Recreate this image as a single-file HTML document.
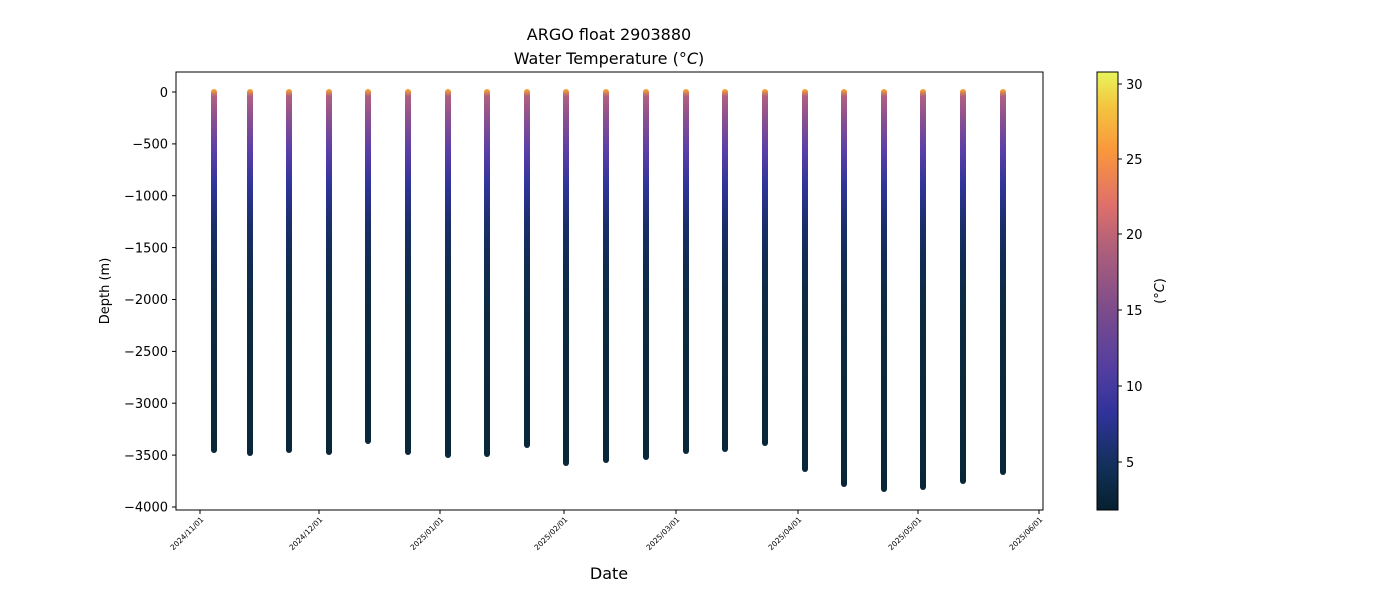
<!DOCTYPE html>
<html><head><style>body{margin:0;background:#fff}svg{display:block}text{font-family:"DejaVu Sans","Liberation Sans",sans-serif;fill:#000}</style></head>
<body>
<svg width="1400" height="600" xmlns="http://www.w3.org/2000/svg">
<defs>
<linearGradient id="cb" x1="0" y1="1" x2="0" y2="0">
<stop offset="0" stop-color="#06202e"/>
<stop offset="0.1" stop-color="#12305a"/>
<stop offset="0.22" stop-color="#30329a"/>
<stop offset="0.32" stop-color="#523ea0"/>
<stop offset="0.45" stop-color="#7a4b8c"/>
<stop offset="0.6" stop-color="#b0607a"/>
<stop offset="0.7" stop-color="#e0706a"/>
<stop offset="0.82" stop-color="#f9973c"/>
<stop offset="0.92" stop-color="#f4c43f"/>
<stop offset="1" stop-color="#e8f55a"/>
</linearGradient>
<linearGradient id="pg" gradientUnits="userSpaceOnUse" x1="0" y1="90" x2="0" y2="500">
<stop offset="0" stop-color="#f5a030"/>
<stop offset="0.015" stop-color="#b06080"/>
<stop offset="0.07" stop-color="#8a5090"/>
<stop offset="0.15" stop-color="#5a3ea8"/>
<stop offset="0.23" stop-color="#30359a"/>
<stop offset="0.33" stop-color="#1a2e6a"/>
<stop offset="0.43" stop-color="#0f2c50"/>
<stop offset="0.55" stop-color="#0b2a40"/>
<stop offset="1" stop-color="#082636"/>
</linearGradient>
</defs>
<text x="609" y="40" font-size="16" text-anchor="middle">ARGO float 2903880</text>
<text x="609" y="64" font-size="16" text-anchor="middle">Water Temperature (<tspan font-style="italic">°C</tspan>)</text>
<g fill="url(#pg)">
<rect x="211" y="89" width="6" height="364" rx="3"/>
<rect x="247" y="89" width="6" height="367" rx="3"/>
<rect x="286" y="89" width="6" height="364" rx="3"/>
<rect x="326" y="89" width="6" height="366" rx="3"/>
<rect x="365" y="89" width="6" height="355" rx="3"/>
<rect x="405" y="89" width="6" height="366" rx="3"/>
<rect x="445" y="89" width="6" height="369" rx="3"/>
<rect x="484" y="89" width="6" height="368" rx="3"/>
<rect x="524" y="89" width="6" height="359" rx="3"/>
<rect x="563" y="89" width="6" height="377" rx="3"/>
<rect x="603" y="89" width="6" height="374" rx="3"/>
<rect x="643" y="89" width="6" height="371" rx="3"/>
<rect x="683" y="89" width="6" height="365" rx="3"/>
<rect x="722" y="89" width="6" height="363" rx="3"/>
<rect x="762" y="89" width="6" height="357" rx="3"/>
<rect x="802" y="89" width="6" height="383" rx="3"/>
<rect x="841" y="89" width="6" height="398" rx="3"/>
<rect x="881" y="89" width="6" height="403" rx="3"/>
<rect x="920" y="89" width="6" height="401" rx="3"/>
<rect x="960" y="89" width="6" height="395" rx="3"/>
<rect x="1000" y="89" width="6" height="386" rx="3"/>
</g>
<rect x="176" y="72" width="867" height="438" fill="none" stroke="#000" stroke-width="1"/>
<g stroke="#000">
<line x1="172" y1="92" x2="176" y2="92"/><line x1="172" y1="143.9" x2="176" y2="143.9"/>
<line x1="172" y1="195.7" x2="176" y2="195.7"/><line x1="172" y1="247.6" x2="176" y2="247.6"/>
<line x1="172" y1="299.5" x2="176" y2="299.5"/><line x1="172" y1="351.4" x2="176" y2="351.4"/>
<line x1="172" y1="403.2" x2="176" y2="403.2"/><line x1="172" y1="455.1" x2="176" y2="455.1"/>
<line x1="172" y1="507" x2="176" y2="507"/>
<line x1="200" y1="510" x2="200" y2="514"/><line x1="319" y1="510" x2="319" y2="514"/>
<line x1="440" y1="510" x2="440" y2="514"/><line x1="564" y1="510" x2="564" y2="514"/>
<line x1="676" y1="510" x2="676" y2="514"/><line x1="798" y1="510" x2="798" y2="514"/>
<line x1="918" y1="510" x2="918" y2="514"/><line x1="1039" y1="510" x2="1039" y2="514"/>
</g>
<g font-size="13" text-anchor="end">
<text x="168" y="97">0</text><text x="168" y="148.6">−500</text><text x="168" y="200.4">−1000</text>
<text x="168" y="252.3">−1500</text><text x="168" y="304.2">−2000</text><text x="168" y="356.1">−2500</text>
<text x="168" y="407.9">−3000</text><text x="168" y="459.8">−3500</text><text x="168" y="511.7">−4000</text>
</g>
<g font-size="7.5" text-anchor="end">
<text transform="translate(204,520) rotate(-45)">2024/11/01</text>
<text transform="translate(323,520) rotate(-45)">2024/12/01</text>
<text transform="translate(444,520) rotate(-45)">2025/01/01</text>
<text transform="translate(568,520) rotate(-45)">2025/02/01</text>
<text transform="translate(680,520) rotate(-45)">2025/03/01</text>
<text transform="translate(802,520) rotate(-45)">2025/04/01</text>
<text transform="translate(922,520) rotate(-45)">2025/05/01</text>
<text transform="translate(1043,520) rotate(-45)">2025/06/01</text>
</g>
<text x="609" y="579" font-size="16" text-anchor="middle">Date</text>
<text transform="translate(109,291) rotate(-90)" font-size="13" text-anchor="middle">Depth (m)</text>
<rect x="1097" y="72" width="21" height="438" fill="url(#cb)" stroke="#000" stroke-width="1"/>
<g stroke="#000">
<line x1="1118" y1="84" x2="1122" y2="84"/><line x1="1118" y1="159" x2="1122" y2="159"/>
<line x1="1118" y1="234" x2="1122" y2="234"/><line x1="1118" y1="310" x2="1122" y2="310"/>
<line x1="1118" y1="386" x2="1122" y2="386"/><line x1="1118" y1="462" x2="1122" y2="462"/>
</g>
<g font-size="13">
<text x="1126" y="89">30</text><text x="1126" y="164">25</text><text x="1126" y="239">20</text>
<text x="1126" y="315">15</text><text x="1126" y="391">10</text><text x="1126" y="467">5</text>
</g>
<text transform="translate(1164,291) rotate(-90)" font-size="13" text-anchor="middle">(<tspan font-style="italic">°C</tspan>)</text>
</svg>
</body></html>
